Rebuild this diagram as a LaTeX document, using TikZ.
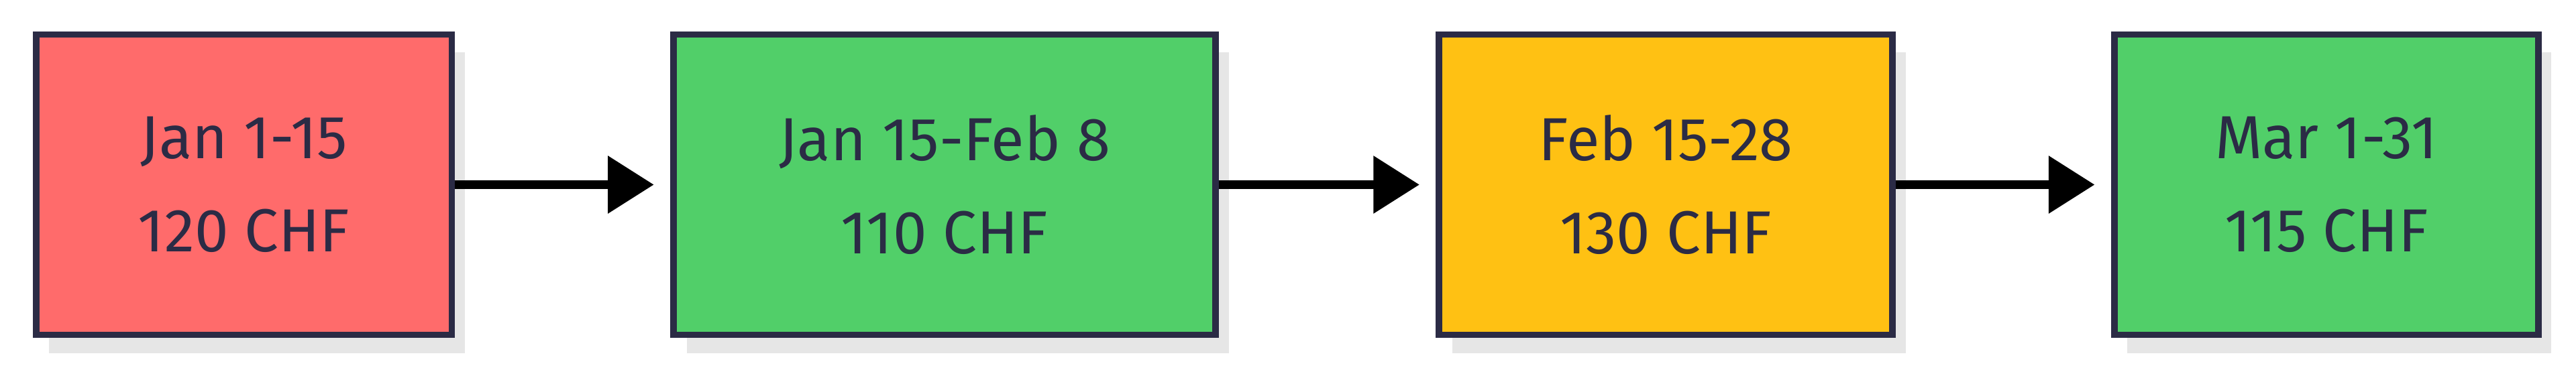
\documentclass[tikz,border=0pt]{standalone}
\usepackage{fontspec}
\setmainfont{Fira Sans}
\usetikzlibrary{arrows.meta}
\definecolor{cred}{HTML}{FF6B6B}
\definecolor{cgreen}{HTML}{51CF69}
\definecolor{cyellow}{HTML}{FFC113}
\definecolor{cborder}{HTML}{2B2B45}
\definecolor{cshadow}{HTML}{E6E6E6}
\begin{document}
\begin{tikzpicture}[x=0.5pt,y=0.5pt,
  box/.style={draw=cborder,line width=2pt,inner sep=0pt,anchor=south west,
    minimum height=91.5pt,font=\fontsize{18.5}{28.5}\selectfont,text=cborder,align=center},
  conn/.style={line width=2.5pt,shorten >=5pt,-{Triangle[length=14pt,width=17pt]}}]
\useasboundingbox (0,0) rectangle (1568,225);
\foreach \x/\w in {20/253,408/330,874/276,1285/258}{
  \fill[cshadow] (\x+10,10) rectangle (\x+\w+10,193);}
\node[box,fill=cred,minimum width=126.5pt] (a) at (20,19) {Jan 1-15\\120 CHF};
\node[box,fill=cgreen,minimum width=165pt] (b) at (408,19) {Jan 15-Feb 8\\110 CHF};
\node[box,fill=cyellow,minimum width=138pt] (c) at (874,19) {Feb 15-28\\130 CHF};
\node[box,fill=cgreen,minimum width=129pt] (d) at (1285,19) {Mar 1-31\\115 CHF};
\draw[conn] (a.east) -- (b.west);
\draw[conn] (b.east) -- (c.west);
\draw[conn] (c.east) -- (d.west);
\end{tikzpicture}
\end{document}
